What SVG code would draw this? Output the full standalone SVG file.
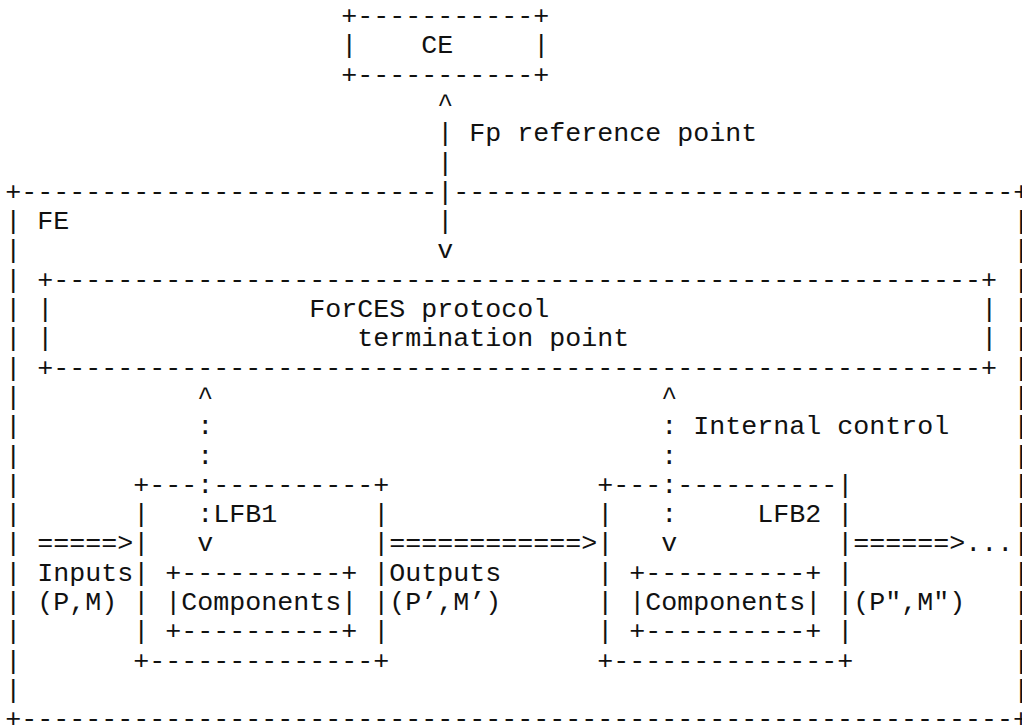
<svg xmlns="http://www.w3.org/2000/svg" width="1022" height="725" viewBox="0 0 1022 725">
<style>
text{font-family:"Liberation Mono","DejaVu Sans Mono",monospace;font-size:26.667px;fill:#111;white-space:pre}
</style>
<rect width="1022" height="725" fill="#fff"/>
<g id="ce">
<text x="341.3" y="24">+-----------+</text>
<text x="341.3" y="53.3">|</text><text x="421.3" y="53.3">CE</text><text x="533.3" y="53.3">|</text>
<text x="341.3" y="82.6">+-----------+</text>
</g>
<g id="fe">
<text x="5.3" y="199.8">+--------------------------</text>
<text x="453.3" y="199.8">-----------------------------------+</text>
<text x="37.3" y="229.1">FE</text>
<text><tspan x="5.3" y="229.1">|</tspan><tspan x="5.3" y="258.4">|</tspan><tspan x="5.3" y="287.7">|</tspan><tspan x="5.3" y="317">|</tspan><tspan x="5.3" y="346.3">|</tspan><tspan x="5.3" y="375.6">|</tspan><tspan x="5.3" y="404.9">|</tspan><tspan x="5.3" y="434.2">|</tspan><tspan x="5.3" y="463.5">|</tspan><tspan x="5.3" y="492.8">|</tspan><tspan x="5.3" y="522.1">|</tspan><tspan x="5.3" y="551.4">|</tspan><tspan x="5.3" y="580.7">|</tspan><tspan x="5.3" y="610">|</tspan><tspan x="5.3" y="639.3">|</tspan><tspan x="5.3" y="668.6">|</tspan><tspan x="5.3" y="697.9">|</tspan></text>
<text><tspan x="1013.3" y="229.1">|</tspan><tspan x="1013.3" y="258.4">|</tspan><tspan x="1013.3" y="287.7">|</tspan><tspan x="1013.3" y="317">|</tspan><tspan x="1013.3" y="346.3">|</tspan><tspan x="1013.3" y="375.6">|</tspan><tspan x="1013.3" y="404.9">|</tspan><tspan x="1013.3" y="434.2">|</tspan><tspan x="1013.3" y="463.5">|</tspan><tspan x="1013.3" y="492.8">|</tspan><tspan x="1013.3" y="522.1">|</tspan><tspan x="1013.3" y="551.4">|</tspan><tspan x="1013.3" y="580.7">|</tspan><tspan x="1013.3" y="610">|</tspan><tspan x="1013.3" y="639.3">|</tspan><tspan x="1013.3" y="668.6">|</tspan><tspan x="1013.3" y="697.9">|</tspan></text>
<text x="5.3" y="727.2">+--------------------------------------------------------------+</text>
</g>
<g id="protocol">
<text x="37.3" y="287.7">+----------------------------------------------------------+</text>
<text x="37.3" y="317">|</text><text x="309.3" y="317">ForCES protocol</text><text x="981.3" y="317">|</text>
<text x="37.3" y="346.3">|</text><text x="357.3" y="346.3">termination point</text><text x="981.3" y="346.3">|</text>
<text x="37.3" y="375.6">+----------------------------------------------------------+</text>
</g>
<g id="lfb1">
<text x="133.3" y="492.8">+---:----------+</text>
<text x="133.3" y="522.1">|</text><text x="213.3" y="522.1">LFB1</text><text x="373.3" y="522.1">|</text>
<text x="133.3" y="551.4">|</text><text x="373.3" y="551.4">|</text>
<text x="133.3" y="580.7">|</text><text x="165.3" y="580.7">+----------+</text><text x="373.3" y="580.7">|</text>
<text x="133.3" y="610">|</text><text x="165.3" y="610">|Components|</text><text x="373.3" y="610">|</text>
<text x="133.3" y="639.3">|</text><text x="165.3" y="639.3">+----------+</text><text x="373.3" y="639.3">|</text>
<text x="133.3" y="668.6">+--------------+</text>
</g>
<g id="lfb2">
<text x="597.3" y="492.8">+---:----------|</text>
<text x="597.3" y="522.1">|</text><text x="757.3" y="522.1">LFB2</text><text x="837.3" y="522.1">|</text>
<text x="597.3" y="551.4">|</text><text x="837.3" y="551.4">|</text>
<text x="597.3" y="580.7">|</text><text x="629.3" y="580.7">+----------+</text><text x="837.3" y="580.7">|</text>
<text x="597.3" y="610">|</text><text x="629.3" y="610">|Components|</text><text x="837.3" y="610">|</text>
<text x="597.3" y="639.3">|</text><text x="629.3" y="639.3">+----------+</text><text x="837.3" y="639.3">|</text>
<text x="597.3" y="668.6">+--------------+</text>
</g>
<g id="connectors">
<text x="437.3" y="111.9">^</text>
<text x="437.3" y="141.2">|</text><text x="469.3" y="141.2">Fp reference point</text>
<text x="437.3" y="170.5">|</text>
<text x="437.3" y="199.8">|</text>
<text x="437.3" y="229.1">|</text>
<text x="437.3" y="258.4">v</text>
<text x="197.3" y="404.9">^</text>
<text x="197.3" y="434.2">:</text>
<text x="197.3" y="463.5">:</text>
<text x="197.3" y="522.1">:</text>
<text x="197.3" y="551.4">v</text>
<text x="661.3" y="404.9">^</text>
<text x="661.3" y="434.2">:</text><text x="693.3" y="434.2">Internal control</text>
<text x="661.3" y="463.5">:</text>
<text x="661.3" y="522.1">:</text>
<text x="661.3" y="551.4">v</text>
<text x="37.3" y="551.4">=====&gt;</text>
<text x="389.3" y="551.4">============&gt;</text>
<text x="853.3" y="551.4">======&gt;...</text>
<text x="37.3" y="580.7">Inputs</text>
<text x="37.3" y="610">(P,M)</text>
<text x="389.3" y="580.7">Outputs</text>
<text x="389.3" y="610">(P’,M’)</text>
<text x="853.3" y="610">(P",M")</text>
</g>
</svg>
